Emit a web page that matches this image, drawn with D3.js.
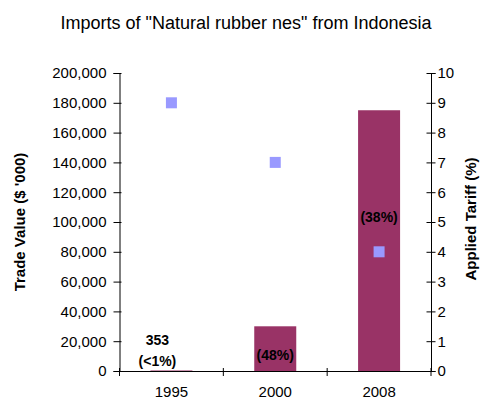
<!DOCTYPE html>
<html><head><meta charset="utf-8">
<script src="https://cdn.jsdelivr.net/npm/d3@7"></script>
<style>body{margin:0;background:#fff}svg{display:block;font-family:"Liberation Sans",Arial,sans-serif}</style>
</head><body>
<script>
const categories = ["1995","2000","2008"];
const tradeValues = [353, 30000, 175000];
const shareLabels = ["(<1%)","(48%)","(38%)"];
const valueLabels = ["353","",""];
const tariffs = [9, 7, 4];
const leftTicks = [0,20000,40000,60000,80000,100000,120000,140000,160000,180000,200000];
const rightTicks = [0,1,2,3,4,5,6,7,8,9,10];
const title = 'Imports of "Natural rubber nes" from Indonesia';

const W = 485, H = 400;
const m = {left:119.5, right:431, top:73, bottom:371};
const svg = d3.select("body").append("svg").attr("width",W).attr("height",H);

const xb = d3.scaleBand().domain(categories).range([m.left, m.right]);
const yL = d3.scaleLinear().domain([0,200000]).range([m.bottom, m.top]);
const yR = d3.scaleLinear().domain([0,10]).range([m.bottom, m.top]);

svg.append("text").attr("x",246).attr("y",29).attr("text-anchor","middle")
  .attr("font-size",18).attr("fill","#000").text(title);

// bars
svg.selectAll("rect.bar").data(categories).join("rect").attr("class","bar")
  .attr("x", d => xb(d) + xb.bandwidth()/2 - 21)
  .attr("width", 42)
  .attr("y", (d,i) => yL(tradeValues[i]))
  .attr("height", (d,i) => m.bottom - yL(tradeValues[i]))
  .attr("fill","#993366");

// axes
const fmt = d3.format(",");
const gl = svg.append("g").attr("transform",`translate(${m.left},0)`)
  .call(d3.axisLeft(yL).tickValues(leftTicks).tickFormat(fmt).tickSize(6).tickPadding(7));
gl.selectAll(".tick line").attr("x2",-6).attr("x1",2);
const gr = svg.append("g").attr("transform",`translate(${m.right},0)`)
  .call(d3.axisRight(yR).tickValues(rightTicks).tickSize(4.5).tickPadding(2));
gr.selectAll(".tick line").attr("x1",-4.5);
const gx = svg.append("g").attr("transform",`translate(0,${m.bottom})`)
  .call(d3.axisBottom(xb).tickSize(0).tickPadding(15));
[gl,gr,gx].forEach(g=>{
  g.select(".domain").attr("stroke","#000");
  g.selectAll("text").attr("font-size",15).attr("fill","#000").attr("font-family","Liberation Sans, Arial, sans-serif");
  g.selectAll(".tick line").attr("stroke","#000");
});
// category separator ticks
svg.selectAll("line.sep").data([0,1,2,3]).join("line").attr("class","sep")
  .attr("x1", i => m.left + i*xb.step()).attr("x2", i => m.left + i*xb.step())
  .attr("y1", m.bottom-3).attr("y2", m.bottom+5).attr("stroke","#000");

// tariff markers
svg.selectAll("rect.pt").data(categories).join("rect").attr("class","pt")
  .attr("x", d => xb(d)+xb.bandwidth()/2 - 5.5)
  .attr("y", (d,i) => yR(tariffs[i]) - 5.5)
  .attr("width",11).attr("height",11).attr("fill","#9999FF");

// labels
const lbl = svg.append("g").attr("font-size",14).attr("font-weight","bold").attr("text-anchor","middle");
lbl.append("text").attr("x", xb("1995")+xb.bandwidth()/2-14).attr("y",345).text(valueLabels[0]);
lbl.append("text").attr("x", xb("1995")+xb.bandwidth()/2-14).attr("y",366).text(shareLabels[0]);
lbl.append("text").attr("x", xb("2000")+xb.bandwidth()/2).attr("y",360).text(shareLabels[1]);
lbl.append("text").attr("x", xb("2008")+xb.bandwidth()/2).attr("y",222).text(shareLabels[2]);

// axis titles
svg.append("text").attr("transform","translate(25,222) rotate(-90)").attr("text-anchor","middle")
  .attr("font-size",15).attr("font-weight","bold").text("Trade Value ($ '000)");
svg.append("text").attr("transform","translate(476,219) rotate(-90)").attr("text-anchor","middle")
  .attr("font-size",15).attr("font-weight","bold").text("Applied Tariff (%)");
</script>
</body></html>
